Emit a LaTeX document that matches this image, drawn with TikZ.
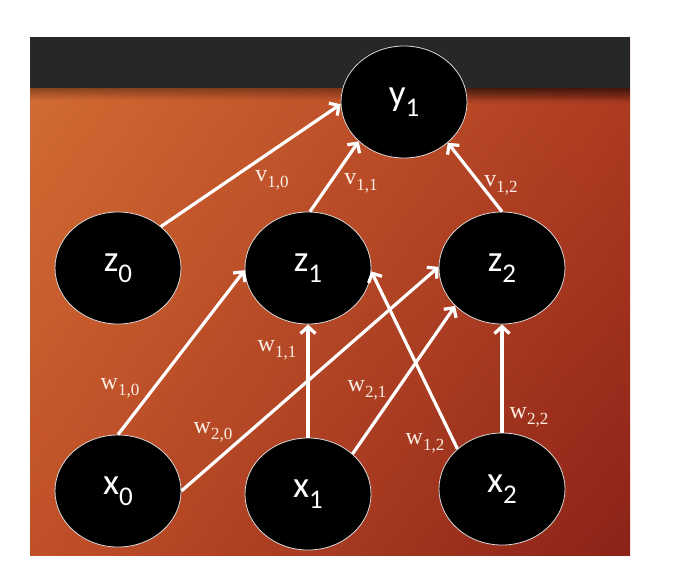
\documentclass[tikz,border=0pt]{standalone}
\usepackage{fontspec}
\newfontfamily\nodefont{Carlito}
\newfontfamily\labfont{Liberation Serif}
\usetikzlibrary{shapes.geometric,arrows.meta,fadings,shadings}
\definecolor{bgUL}{RGB}{212,110,52}
\definecolor{bgUR}{RGB}{178,62,34}
\definecolor{bgLL}{RGB}{192,80,40}
\definecolor{bgLR}{RGB}{140,34,24}
\definecolor{barc}{RGB}{39,39,39}
\definecolor{labc}{RGB}{252,238,228}
\begin{document}
\begin{tikzpicture}[x=1pt,y=-1pt,
  neuron/.style={ellipse, fill=black, draw=white!70!gray, line width=0.8pt,
    minimum width=126pt, minimum height=112pt, inner sep=0pt, text=white,
    font=\nodefont\fontsize{37}{37}\selectfont},
  conn/.style={draw=white, line width=3.2pt, -{Straight Barb[length=7pt,width=15pt]}},
  wlabel/.style={text=labc, inner sep=0pt, font=\labfont\fontsize{24}{24}\selectfont}]
\useasboundingbox (0,0) rectangle (676,576);
\fill[white] (0,0) rectangle (676,576);
\shade[upper left=bgUL, upper right=bgUR, lower left=bgLL, lower right=bgLR] (30,37) rectangle (630,555);
\fill[black, opacity=0.35, path fading=south] (30,88) rectangle (630,100);
\fill[black, opacity=0.4, path fading=south] (420,88) rectangle (630,104);
\fill[barc] (30,37) rectangle (630,88);

\newcommand{\nlab}[2]{#1\raisebox{-11pt}{\fontsize{27}{27}\selectfont #2}}
\newcommand{\elab}[2]{#1\raisebox{-6pt}{\fontsize{17}{17}\selectfont #2}}
\node[neuron] (y1) at (404,102) {\nlab{y}{1}};
\node[neuron] (z0) at (118,268) {\nlab{z}{0}};
\node[neuron] (z1) at (308,268) {\nlab{z}{1}};
\node[neuron] (z2) at (502,268) {\nlab{z}{2}};
\node[neuron] (x0) at (118,491) {\nlab{x}{0}};
\node[neuron] (x1) at (308,494) {\nlab{x}{1}};
\node[neuron] (x2) at (502,489) {\nlab{x}{2}};

\draw[conn] (z0.44) -- (y1.182);
\draw[conn] (z1.88) -- (y1.221);
\draw[conn] (z2.north) -- (y1.317);
\draw[conn] (x0.north) -- (z1.182);
\draw[conn] (x0.east) -- (z2.179);
\draw[conn] (x1.north) -- (z1.south);
\draw[conn] (x1.42) -- (z2.219);
\draw[conn] (x2.138) -- (z1.357);
\draw[conn] (x2.north) -- (z2.south);

\node[wlabel] (lv10) at (272,180) {\elab{v}{1,0}};
\node[wlabel] (lv11) at (361,183) {\elab{v}{1,1}};
\node[wlabel] (lv12) at (501,185) {\elab{v}{1,2}};
\node[wlabel] (lw10) at (120,388) {\elab{w}{1,0}};
\node[wlabel] (lw11) at (277,350) {\elab{w}{1,1}};
\node[wlabel] (lw20) at (213,432) {\elab{w}{2,0}};
\node[wlabel] (lw21) at (367,390) {\elab{w}{2,1}};
\node[wlabel] (lw12) at (425,443) {\elab{w}{1,2}};
\node[wlabel] (lw22) at (529,417) {\elab{w}{2,2}};
\end{tikzpicture}
\end{document}
